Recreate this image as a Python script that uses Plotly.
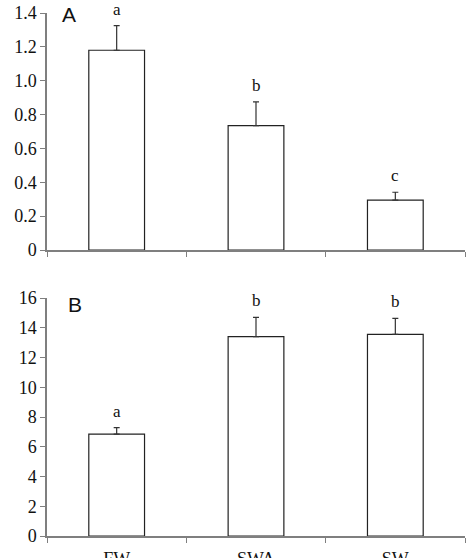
import plotly.graph_objects as go
from plotly.subplots import make_subplots

categories = ["FW", "SWA", "SW"]
a_values = [1.18, 0.735, 0.295]
a_errors = [0.145, 0.14, 0.046]
a_letters = ["a", "b", "c"]
b_values = [6.85, 13.4, 13.55]
b_errors = [0.43, 1.3, 1.08]
b_letters = ["a", "b", "b"]

W, H = 468, 558
ml, mr, mt, mb = 47, 3, 13, 22
ph = H - mt - mb

def py(pix):
    return (H - mb - pix) / ph

fig = make_subplots(rows=2, cols=1)
serif = "Times New Roman, Liberation Serif, serif"
axis_col = "#7f7f7f"

for row, vals, errs, letters in [(1, a_values, a_errors, a_letters), (2, b_values, b_errors, b_letters)]:
    fig.add_trace(go.Bar(
        x=categories, y=vals, width=0.4,
        marker=dict(color="white", line=dict(color="#222222", width=1.2)),
        error_y=dict(type="data", symmetric=False, array=errs,
                     arrayminus=[0]*len(errs), color="#333333", thickness=1.2, width=3),
        showlegend=False), row=row, col=1)
    for c, v, e, l in zip(categories, vals, errs, letters):
        fig.add_annotation(x=c, y=v + e, text=l, showarrow=False, yanchor="bottom",
                           yshift=5, font=dict(family=serif, size=17, color="#111111"),
                           xref="x" if row == 1 else "x2", yref="y" if row == 1 else "y2")

xaxis_common = dict(type="category", tickson="boundaries", ticks="outside", ticklen=5,
                    tickcolor=axis_col, showline=True, linecolor=axis_col, linewidth=1.5,
                    showgrid=False, zeroline=False, range=[-0.5, 2.5], automargin=False,
                    tickfont=dict(family=serif, size=18, color="#111111"))
fig.update_xaxes(**xaxis_common)
fig.update_xaxes(showticklabels=False, row=1, col=1)
fig.update_xaxes(showticklabels=True, ticklabelstandoff=6, row=2, col=1)

yaxis_common = dict(ticks="outside", ticklen=5, tickcolor=axis_col, showline=True,
                    linecolor=axis_col, linewidth=1.5, showgrid=False, zeroline=False,
                    automargin=False,
                    tickfont=dict(family=serif, size=18, color="#111111"))
fig.update_yaxes(**yaxis_common)
fig.update_yaxes(range=[0, 1.4], tickvals=[0, 0.2, 0.4, 0.6, 0.8, 1.0, 1.2, 1.4],
                 ticktext=["0", "0.2", "0.4", "0.6", "0.8", "1.0", "1.2", "1.4"], row=1, col=1)
fig.update_yaxes(range=[0, 16], tickvals=list(range(0, 17, 2)), row=2, col=1)

fig.update_layout(
    width=W, height=H,
    font=dict(family=serif, color="#111111"),
    margin=dict(l=ml, r=mr, t=mt, b=mb),
    plot_bgcolor="white", paper_bgcolor="white",
    xaxis=dict(domain=[0, 1]), xaxis2=dict(domain=[0, 1]),
    yaxis=dict(domain=[py(250), 1]), yaxis2=dict(domain=[0, py(298)]),
)

fig.add_annotation(text="A", xref="paper", yref="paper", x=(60 - ml) / (W - ml - mr),
                   y=py(15), xanchor="left", yanchor="middle", showarrow=False,
                   font=dict(family="Liberation Sans", size=21, color="#111111"))
fig.add_annotation(text="B", xref="paper", yref="paper", x=(66 - ml) / (W - ml - mr),
                   y=py(305), xanchor="left", yanchor="middle", showarrow=False,
                   font=dict(family="Liberation Sans", size=21, color="#111111"))

fig.write_html("out.html")
